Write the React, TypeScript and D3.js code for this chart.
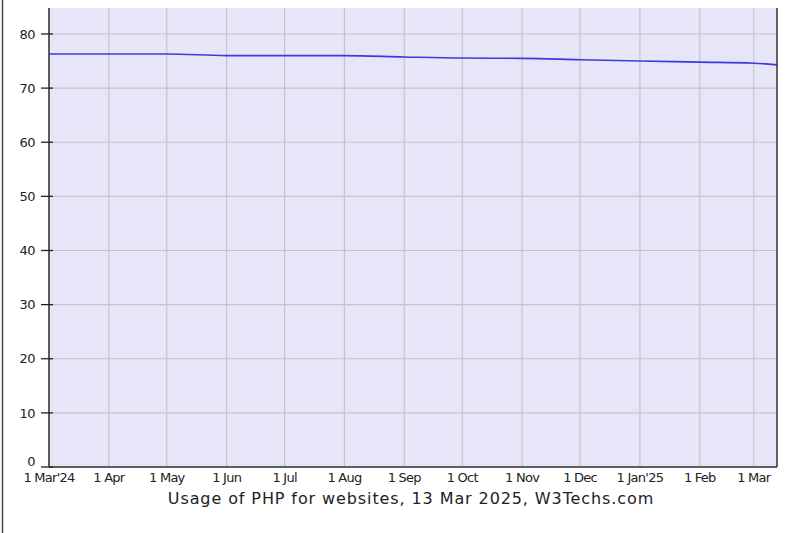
import React from "react";
import * as d3 from "d3";

const dates: string[] = [
  "2024-03-01", "2024-04-01", "2024-05-01", "2024-06-01", "2024-07-01", "2024-08-01",
  "2024-09-01", "2024-10-01", "2024-11-01", "2024-12-01", "2025-01-01", "2025-02-01",
  "2025-03-01", "2025-03-13",
];
const usage: number[] = [76.3, 76.3, 76.3, 76.0, 76.0, 76.0, 75.75, 75.55, 75.5, 75.25, 75.0, 74.8, 74.6, 74.3];

const tickDates: string[] = [
  "2024-03-01", "2024-04-01", "2024-05-01", "2024-06-01", "2024-07-01", "2024-08-01",
  "2024-09-01", "2024-10-01", "2024-11-01", "2024-12-01", "2025-01-01", "2025-02-01", "2025-03-01",
];
const tickLabels: string[] = [
  "1 Mar'24", "1 Apr", "1 May", "1 Jun", "1 Jul", "1 Aug", "1 Sep", "1 Oct", "1 Nov", "1 Dec", "1 Jan'25", "1 Feb", "1 Mar",
];
const yTicks: number[] = [0, 10, 20, 30, 40, 50, 60, 70, 80];
const title = "Usage of PHP for websites, 13 Mar 2025, W3Techs.com";

const W = 800;
const H = 533;
const left = 49;
const right = 777;
const top = 8;
const bottom = 467;

export default function App() {
  const parse = d3.utcParse("%Y-%m-%d");
  const x = d3
    .scaleUtc()
    .domain([parse("2024-03-01")!, parse("2025-03-13")!])
    .range([left, right]);
  const y = d3.scaleLinear().domain([0, 84.8]).range([bottom, top]);
  const pts = dates.map((d, i) => [x(parse(d)!), y(usage[i])] as [number, number]);
  const line = d3.line().curve(d3.curveMonotoneX)(pts) || "";
  const font = "'DejaVu Sans', Verdana, sans-serif";

  return (
    <div style={{ position: "absolute", left: 0, top: 0 }}>
      <svg width={W} height={H} style={{ display: "block", background: "#ffffff" }}>
        <line x1={2.5} x2={2.5} y1={0} y2={H} stroke="#444" strokeWidth={1.5} />
        <rect x={left} y={top} width={right - left} height={bottom - top} fill="#e6e6f8" />
        {yTicks.map((t) => (
          <line key={"h" + t} x1={left} x2={right} y1={y(t)} y2={y(t)} stroke="#c4c4c8" strokeWidth={1.2} />
        ))}
        {tickDates.map((d) => (
          <line key={"v" + d} x1={x(parse(d)!)} x2={x(parse(d)!)} y1={top} y2={bottom} stroke="#c4c4c8" strokeWidth={1.2} />
        ))}
        <path d={line} fill="none" stroke="#3b3bdc" strokeWidth={1.6} />
        <line x1={left} x2={left} y1={top} y2={bottom} stroke="#333" strokeWidth={1.5} />
        <line x1={right} x2={right} y1={top} y2={bottom} stroke="#333" strokeWidth={1.5} />
        <line x1={left} x2={right} y1={bottom} y2={bottom} stroke="#333" strokeWidth={1.5} />
        {yTicks.map((t) => (
          <g key={"yt" + t}>
            <line x1={41} x2={53} y1={y(t)} y2={y(t)} stroke="#222" strokeWidth={1.3} />
            <text
              x={35}
              y={t === 0 ? y(t) - 6 : y(t)}
              dy="0.36em"
              textAnchor="end"
              fontFamily={font}
              fontSize={13}
              letterSpacing={-0.5}
              fill="#222"
            >
              {t}
            </text>
          </g>
        ))}
        {tickDates.map((d, i) => (
          <text
            key={"xt" + d}
            x={x(parse(d)!)}
            y={482}
            textAnchor="middle"
            fontFamily={font}
            fontSize={13}
            letterSpacing={-0.75}
            fill="#222"
          >
            {tickLabels[i]}
          </text>
        ))}
        <text x={411} y={504} textAnchor="middle" fontFamily={font} fontSize={16} letterSpacing={0.9} fill="#222">
          {title}
        </text>
      </svg>
    </div>
  );
}
